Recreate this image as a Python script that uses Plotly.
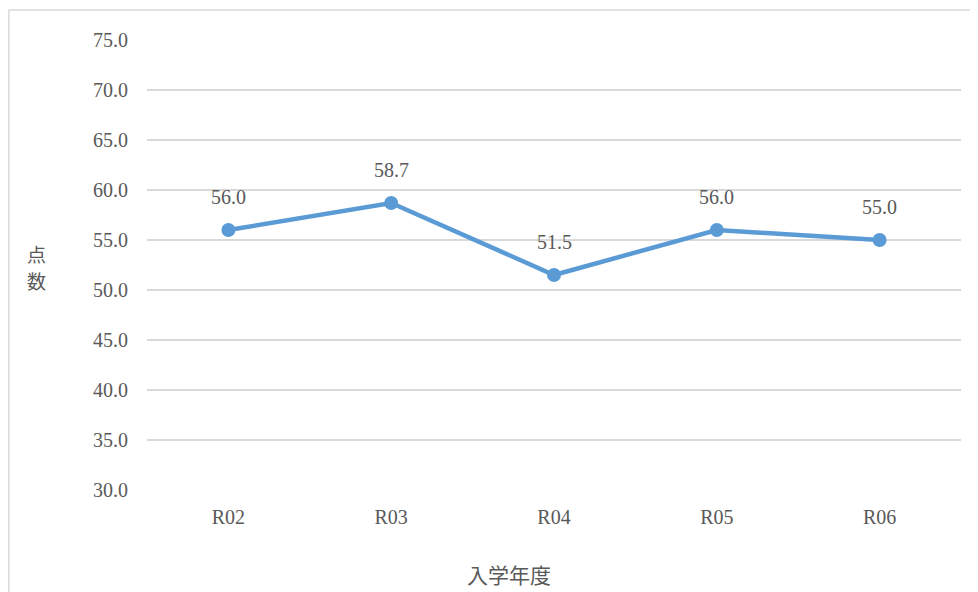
import plotly.graph_objects as go

categories = ["R02", "R03", "R04", "R05", "R06"]
values = [56.0, 58.7, 51.5, 56.0, 55.0]
y_ticks = [30, 35, 40, 45, 50, 55, 60, 65, 70, 75]

W, H = 978, 592
OFF = 8  # page body offset in the screenshot
# target plot area in screenshot pixels: x 147..961, y 40..490
L, T = 147 - OFF, 40 - OFF
R = W - (961 - OFF)
B = H - (490 - OFF)
pw, ph = W - L - R, H - T - B

def px(x):
    return (x - OFF - L) / pw

def py(y):
    return (H - B - (y - OFF)) / ph

serif = "Liberation Serif"
jp = "Noto Sans CJK JP"
gray = "#595959"
blue = "#5B9BD5"

fig = go.Figure()
fig.add_trace(go.Scatter(
    x=categories, y=values, mode="lines+markers",
    line=dict(color=blue, width=4.5),
    marker=dict(color=blue, size=14),
    hoverinfo="skip", showlegend=False,
))

annotations = []
for c, v in zip(categories, values):
    annotations.append(dict(
        x=c, y=v, xref="x", yref="y", text=f"{v:.1f}", showarrow=False,
        yshift=33, font=dict(family=serif, size=20, color=gray),
    ))
for ch, yy in (("点", 253), ("数", 280)):
    annotations.append(dict(
        x=px(36), y=py(yy), xref="paper", yref="paper", text=ch,
        showarrow=False, font=dict(family=jp, size=19, color=gray),
        xanchor="center", yanchor="middle",
    ))
annotations.append(dict(
    x=px(509), y=py(574), xref="paper", yref="paper", text="入学年度",
    showarrow=False, font=dict(family=jp, size=21, color=gray),
    xanchor="center", yanchor="middle",
))

border = "#D9D9D9"
shapes = [
    dict(type="line", xref="paper", yref="paper", x0=px(8.9), x1=px(8.9),
         y0=py(620), y1=py(10), line=dict(color=border, width=1.5)),
    dict(type="line", xref="paper", yref="paper", x0=px(8.9), x1=px(1000),
         y0=py(10), y1=py(10), line=dict(color=border, width=1.5)),
]

fig.update_layout(
    width=W, height=H,
    margin=dict(l=L, r=R, t=T, b=B),
    paper_bgcolor="white", plot_bgcolor="white",
    annotations=annotations, shapes=shapes,
    xaxis=dict(
        type="category", range=[-0.5, 4.5], showgrid=False, showline=False,
        ticks="", tickfont=dict(family=serif, size=20, color=gray),
        zeroline=False, ticklabelstandoff=13,
    ),
    yaxis=dict(
        range=[30, 75], tickvals=y_ticks, tickformat=".1f",
        showgrid=True, gridcolor=border, gridwidth=1.5,
        zeroline=False, showline=False, ticks="",
        tickfont=dict(family=serif, size=20, color=gray), ticklabelstandoff=18,
    ),
)

fig.write_html("out.html")
